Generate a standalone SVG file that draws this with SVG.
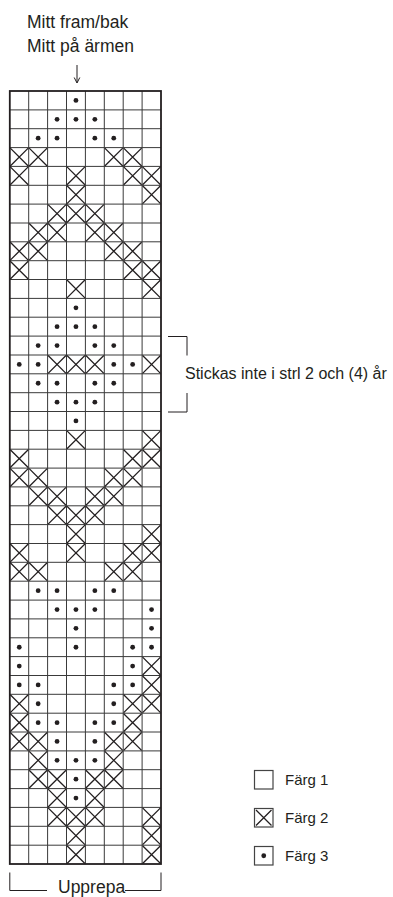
<svg xmlns="http://www.w3.org/2000/svg" xmlns:xlink="http://www.w3.org/1999/xlink" width="393" height="897" viewBox="0 0 393 897">
<style>
text{font-family:"Liberation Sans",Arial,sans-serif;fill:#231f20}
.hd{font-size:17.5px}
.nt{font-size:16px}
.lg{font-size:15px}
.grid{fill:none;stroke:#3a3a3a;stroke-width:1}
.frame{fill:none;stroke:#231f20;stroke-width:1.8}
.xm{fill:none;stroke:#231f20;stroke-width:1.3}
.dt{fill:#231f20}
.ln{fill:none;stroke:#231f20;stroke-width:1}
.lbox{fill:#fff;stroke:#444;stroke-width:1.2}
</style>
<defs>
<path id="X" class="xm" d="M0.5 0.5L18.4 18.35M18.4 0.5L0.5 18.35"/>
<circle id="D" class="dt" cx="9.45" cy="9.43" r="2.4"/>
</defs>
<rect width="393" height="897" fill="#fff"/>
<g id="header">
<text class="hd" x="27" y="28">Mitt fram/bak</text>
<text class="hd" x="27" y="52">Mitt på ärmen</text>
</g>
<g id="connectors">
<path class="ln" d="M77 65V82.5"/>
<path class="ln" d="M74.2 77.5L77 83L79.8 77.5"/>
<path class="ln" d="M168 336.5H187V355.5M168 412H187V393"/>
<path class="ln" d="M9.8 872.5V890.5H47M125 890.5H161V872.5"/>
</g>
<g id="chart">
<path class="grid" d="M9.8 109.9H161M9.8 128.7H161M9.8 147.6H161M9.8 166.4H161M9.8 185.3H161M9.8 204.1H161M9.8 223H161M9.8 241.8H161M9.8 260.7H161M9.8 279.5H161M9.8 298.4H161M9.8 317.2H161M9.8 336.1H161M9.8 355H161M9.8 373.8H161M9.8 392.7H161M9.8 411.5H161M9.8 430.4H161M9.8 449.2H161M9.8 468.1H161M9.8 486.9H161M9.8 505.8H161M9.8 524.6H161M9.8 543.5H161M9.8 562.3H161M9.8 581.2H161M9.8 600.1H161M9.8 618.9H161M9.8 637.8H161M9.8 656.6H161M9.8 675.5H161M9.8 694.3H161M9.8 713.2H161M9.8 732H161M9.8 750.9H161M9.8 769.7H161M9.8 788.6H161M9.8 807.4H161M9.8 826.3H161M9.8 845.2H161M28.7 91V864M47.6 91V864M66.5 91V864M85.4 91V864M104.3 91V864M123.2 91V864M142.1 91V864"/>
<g id="row-1"><use href="#D" x="66.5" y="91"/></g>
<g id="row-2"><use href="#D" x="47.6" y="109.9"/><use href="#D" x="66.5" y="109.9"/><use href="#D" x="85.4" y="109.9"/></g>
<g id="row-3"><use href="#D" x="28.7" y="128.7"/><use href="#D" x="47.6" y="128.7"/><use href="#D" x="85.4" y="128.7"/><use href="#D" x="104.3" y="128.7"/></g>
<g id="row-4"><use href="#X" x="9.8" y="147.6"/><use href="#X" x="28.7" y="147.6"/><use href="#X" x="104.3" y="147.6"/><use href="#X" x="123.2" y="147.6"/></g>
<g id="row-5"><use href="#X" x="9.8" y="166.4"/><use href="#X" x="66.5" y="166.4"/><use href="#X" x="123.2" y="166.4"/><use href="#X" x="142.1" y="166.4"/></g>
<g id="row-6"><use href="#X" x="66.5" y="185.3"/><use href="#X" x="142.1" y="185.3"/></g>
<g id="row-7"><use href="#X" x="47.6" y="204.1"/><use href="#X" x="66.5" y="204.1"/><use href="#X" x="85.4" y="204.1"/></g>
<g id="row-8"><use href="#X" x="28.7" y="223"/><use href="#X" x="47.6" y="223"/><use href="#X" x="85.4" y="223"/><use href="#X" x="104.3" y="223"/></g>
<g id="row-9"><use href="#X" x="9.8" y="241.8"/><use href="#X" x="28.7" y="241.8"/><use href="#X" x="104.3" y="241.8"/><use href="#X" x="123.2" y="241.8"/></g>
<g id="row-10"><use href="#X" x="9.8" y="260.7"/><use href="#X" x="123.2" y="260.7"/><use href="#X" x="142.1" y="260.7"/></g>
<g id="row-11"><use href="#X" x="66.5" y="279.5"/><use href="#X" x="142.1" y="279.5"/></g>
<g id="row-12"><use href="#D" x="66.5" y="298.4"/></g>
<g id="row-13"><use href="#D" x="47.6" y="317.2"/><use href="#D" x="66.5" y="317.2"/><use href="#D" x="85.4" y="317.2"/></g>
<g id="row-14"><use href="#D" x="28.7" y="336.1"/><use href="#D" x="47.6" y="336.1"/><use href="#D" x="85.4" y="336.1"/><use href="#D" x="104.3" y="336.1"/></g>
<g id="row-15"><use href="#D" x="9.8" y="355"/><use href="#D" x="28.7" y="355"/><use href="#X" x="47.6" y="355"/><use href="#X" x="66.5" y="355"/><use href="#X" x="85.4" y="355"/><use href="#D" x="104.3" y="355"/><use href="#D" x="123.2" y="355"/><use href="#X" x="142.1" y="355"/></g>
<g id="row-16"><use href="#D" x="28.7" y="373.8"/><use href="#D" x="47.6" y="373.8"/><use href="#D" x="85.4" y="373.8"/><use href="#D" x="104.3" y="373.8"/></g>
<g id="row-17"><use href="#D" x="47.6" y="392.7"/><use href="#D" x="66.5" y="392.7"/><use href="#D" x="85.4" y="392.7"/></g>
<g id="row-18"><use href="#D" x="66.5" y="411.5"/></g>
<g id="row-19"><use href="#X" x="66.5" y="430.4"/><use href="#X" x="142.1" y="430.4"/></g>
<g id="row-20"><use href="#X" x="9.8" y="449.2"/><use href="#X" x="123.2" y="449.2"/><use href="#X" x="142.1" y="449.2"/></g>
<g id="row-21"><use href="#X" x="9.8" y="468.1"/><use href="#X" x="28.7" y="468.1"/><use href="#X" x="104.3" y="468.1"/><use href="#X" x="123.2" y="468.1"/></g>
<g id="row-22"><use href="#X" x="28.7" y="486.9"/><use href="#X" x="47.6" y="486.9"/><use href="#X" x="85.4" y="486.9"/><use href="#X" x="104.3" y="486.9"/></g>
<g id="row-23"><use href="#X" x="47.6" y="505.8"/><use href="#X" x="66.5" y="505.8"/><use href="#X" x="85.4" y="505.8"/></g>
<g id="row-24"><use href="#X" x="66.5" y="524.6"/><use href="#X" x="142.1" y="524.6"/></g>
<g id="row-25"><use href="#X" x="9.8" y="543.5"/><use href="#X" x="66.5" y="543.5"/><use href="#X" x="123.2" y="543.5"/><use href="#X" x="142.1" y="543.5"/></g>
<g id="row-26"><use href="#X" x="9.8" y="562.3"/><use href="#X" x="28.7" y="562.3"/><use href="#X" x="104.3" y="562.3"/><use href="#X" x="123.2" y="562.3"/></g>
<g id="row-27"><use href="#D" x="28.7" y="581.2"/><use href="#D" x="47.6" y="581.2"/><use href="#D" x="85.4" y="581.2"/><use href="#D" x="104.3" y="581.2"/></g>
<g id="row-28"><use href="#D" x="47.6" y="600.1"/><use href="#D" x="66.5" y="600.1"/><use href="#D" x="85.4" y="600.1"/><use href="#D" x="142.1" y="600.1"/></g>
<g id="row-29"><use href="#D" x="66.5" y="618.9"/><use href="#D" x="142.1" y="618.9"/></g>
<g id="row-30"><use href="#D" x="9.8" y="637.8"/><use href="#D" x="66.5" y="637.8"/><use href="#D" x="123.2" y="637.8"/><use href="#D" x="142.1" y="637.8"/></g>
<g id="row-31"><use href="#D" x="9.8" y="656.6"/><use href="#D" x="123.2" y="656.6"/><use href="#X" x="142.1" y="656.6"/></g>
<g id="row-32"><use href="#D" x="9.8" y="675.5"/><use href="#D" x="28.7" y="675.5"/><use href="#D" x="104.3" y="675.5"/><use href="#D" x="123.2" y="675.5"/><use href="#X" x="142.1" y="675.5"/></g>
<g id="row-33"><use href="#X" x="9.8" y="694.3"/><use href="#D" x="28.7" y="694.3"/><use href="#D" x="104.3" y="694.3"/><use href="#X" x="123.2" y="694.3"/><use href="#X" x="142.1" y="694.3"/></g>
<g id="row-34"><use href="#X" x="9.8" y="713.2"/><use href="#D" x="28.7" y="713.2"/><use href="#D" x="47.6" y="713.2"/><use href="#D" x="85.4" y="713.2"/><use href="#D" x="104.3" y="713.2"/><use href="#X" x="123.2" y="713.2"/></g>
<g id="row-35"><use href="#X" x="9.8" y="732"/><use href="#X" x="28.7" y="732"/><use href="#D" x="47.6" y="732"/><use href="#D" x="85.4" y="732"/><use href="#X" x="104.3" y="732"/><use href="#X" x="123.2" y="732"/></g>
<g id="row-36"><use href="#X" x="28.7" y="750.9"/><use href="#D" x="47.6" y="750.9"/><use href="#D" x="66.5" y="750.9"/><use href="#D" x="85.4" y="750.9"/><use href="#X" x="104.3" y="750.9"/></g>
<g id="row-37"><use href="#X" x="28.7" y="769.7"/><use href="#X" x="47.6" y="769.7"/><use href="#D" x="66.5" y="769.7"/><use href="#X" x="85.4" y="769.7"/><use href="#X" x="104.3" y="769.7"/></g>
<g id="row-38"><use href="#X" x="47.6" y="788.6"/><use href="#D" x="66.5" y="788.6"/><use href="#X" x="85.4" y="788.6"/></g>
<g id="row-39"><use href="#X" x="47.6" y="807.4"/><use href="#X" x="66.5" y="807.4"/><use href="#X" x="85.4" y="807.4"/><use href="#X" x="142.1" y="807.4"/></g>
<g id="row-40"><use href="#X" x="66.5" y="826.3"/><use href="#X" x="142.1" y="826.3"/></g>
<g id="row-41"><use href="#X" x="66.5" y="845.2"/><use href="#X" x="142.1" y="845.2"/></g>
<rect class="frame" x="9.8" y="91" width="151.2" height="773"/>
</g>
<g id="note">
<text class="nt" x="185" y="379">Stickas inte i strl 2 och (4) år</text>
</g>
<g id="repeat">
<text class="hd" x="58" y="893">Upprepa</text>
</g>
<g id="legend-1"><rect class="lbox" x="254.5" y="770.5" width="18.5" height="18.5"/><text class="lg" x="285" y="785">Färg 1</text></g>
<g id="legend-2"><rect class="lbox" x="254.5" y="808.5" width="18.5" height="18.5"/><path class="xm" d="M256 810L271.5 825.5M271.5 810L256 825.5"/><text class="lg" x="285" y="823">Färg 2</text></g>
<g id="legend-3"><rect class="lbox" x="254.5" y="846.5" width="18.5" height="18.5"/><circle class="dt" cx="263.75" cy="855.75" r="2.4"/><text class="lg" x="285" y="861">Färg 3</text></g>
</svg>
